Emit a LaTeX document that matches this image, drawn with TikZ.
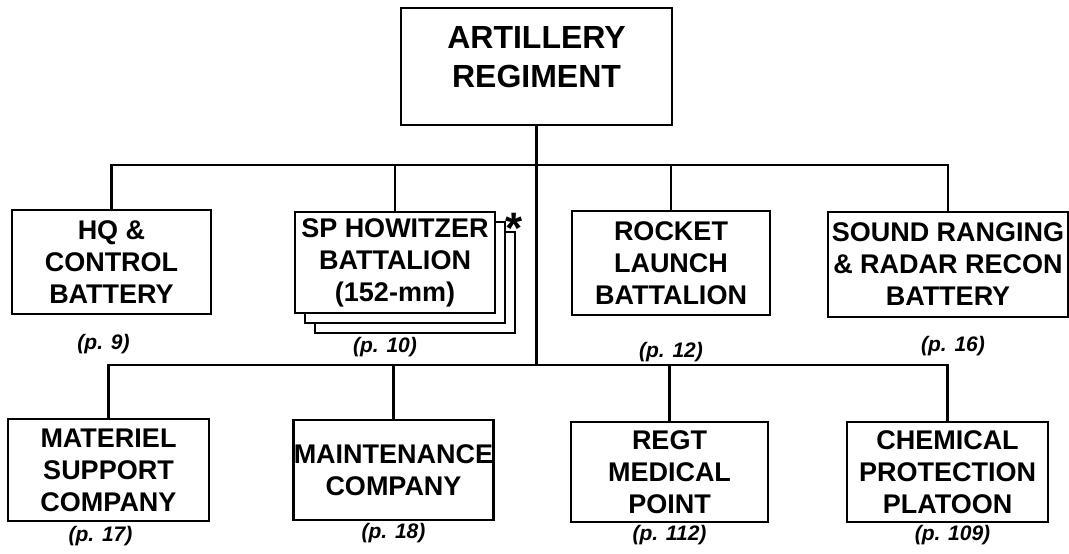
\documentclass[tikz,border=0pt]{standalone}
\usepackage{fontspec}
\setmainfont{Liberation Sans}
\usetikzlibrary{positioning}

\begin{document}
\begin{tikzpicture}[x=1pt, y=-1pt,
    unit/.style={draw, line width=2.8pt, fill=white, align=center, inner sep=0pt, font=\fontsize{27}{32}\selectfont\bfseries},
    pageref/.style={inner sep=0pt, font=\fontsize{21}{24}\selectfont\bfseries\itshape},
    link/.style={line width=2.4pt}]
  \useasboundingbox (0,0) rectangle (1069,554);
  % regiment
  \node[unit, minimum width=271pt, minimum height=117pt] (reg) at (536.5,66.5) {};
  \node[inner sep=0pt, align=center, font=\fontsize{32}{39}\selectfont\bfseries] (regtext) at (536.5,57) {ARTILLERY\\REGIMENT};
  \coordinate (tbar) at (536.5,165);
  \coordinate (bbar) at (536.5,365);
  \draw[link] (reg.south) -- (bbar);
  % first row
  \node[unit, minimum width=199pt, minimum height=104pt] (hq) at (111.5,262) {HQ \&\\CONTROL\\BATTERY};
  \node[unit, minimum width=200pt, minimum height=101pt] (sph3) at (415,282.5) {};
  \node[unit, minimum width=200pt, minimum height=101pt] (sph2) at (405,272.5) {};
  \node[unit, minimum width=200pt, minimum height=101pt] (sph) at (395,262.5) {SP HOWITZER\\BATTALION\\(152-mm)};
  \node[anchor=base, inner sep=0pt, font=\fontsize{44}{44}\selectfont\bfseries] (ast) at (514,243) {*};
  \node[unit, minimum width=198pt, minimum height=104pt] (rocket) at (671,263) {ROCKET\\LAUNCH\\BATTALION};
  \node[unit, minimum width=240pt, minimum height=105pt] (sound) at (948,264.5) {SOUND RANGING\\\& RADAR RECON\\BATTERY};
  \draw[link] (hq.north) -- (hq.north |- tbar) -| (sound.north);
  \draw[link] (sph.north) -- (sph.north |- tbar);
  \draw[link] (rocket.north) -- (rocket.north |- tbar);
  \node[pageref, below=19pt of hq, xshift=-8pt] (hqpg) {(p. 9)};
  \node[pageref, below=23pt of sph3, xshift=-30pt, yshift=20pt] (sphpg) {(p. 10)};
  \node[pageref, below=26pt of rocket] (rocketpg) {(p. 12)};
  \node[pageref, below=18pt of sound, xshift=5pt] (soundpg) {(p. 16)};
  % second row
  \node[unit, minimum width=201pt, minimum height=102pt] (mat) at (108.5,470) {MATERIEL\\SUPPORT\\COMPANY};
  \node[unit, minimum width=199pt, minimum height=100pt] (maint) at (393.5,470) {MAINTENANCE\\COMPANY};
  \node[unit, minimum width=197pt, minimum height=100pt] (med) at (669.5,472) {REGT\\MEDICAL\\POINT};
  \node[unit, minimum width=201pt, minimum height=100pt] (chem) at (947.5,472) {CHEMICAL\\PROTECTION\\PLATOON};
  \draw[link] (mat.north) -- (mat.north |- bbar) -| (chem.north);
  \draw[link] (maint.north) -- (maint.north |- bbar);
  \draw[link] (med.north) -- (med.north |- bbar);
  \node[pageref, below=4pt of mat, xshift=-8pt] (matpg) {(p. 17)};
  \node[pageref, below=2pt of maint] (maintpg) {(p. 18)};
  \node[pageref, below=2pt of med] (medpg) {(p. 112)};
  \node[pageref, below=2pt of chem, xshift=5pt] (chempg) {(p. 109)};
\end{tikzpicture}
\end{document}
